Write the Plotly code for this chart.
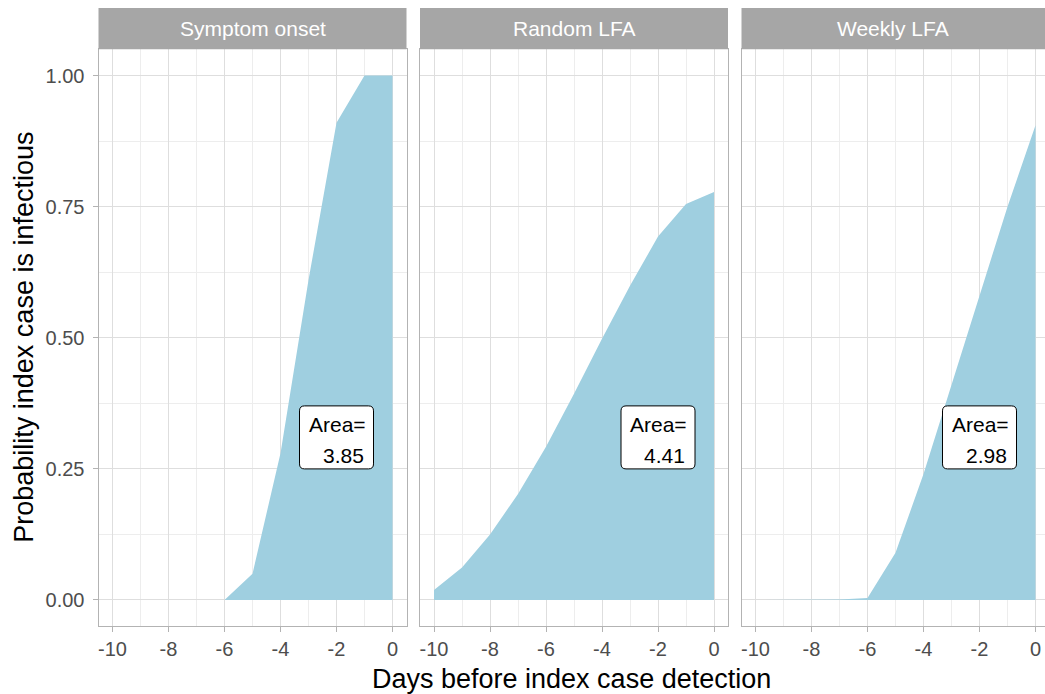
import plotly.graph_objects as go

# ---- data ----
days = [-10, -9, -8, -7, -6, -5, -4, -3, -2, -1, 0]
panels = ["Symptom onset", "Random LFA", "Weekly LFA"]
symptom_onset = [None, None, None, None, 0.0, 0.05, 0.28, 0.61, 0.91, 1.0, 1.0]
random_lfa = [0.019, 0.062, 0.125, 0.202, 0.292, 0.393, 0.498, 0.599, 0.693, 0.755, 0.778]
weekly_lfa = [0.0, 0.0, 0.0, 0.001, 0.004, 0.09, 0.24, 0.41, 0.58, 0.75, 0.905]
area_labels = ["3.85", "4.41", "2.98"]
label_x, label_y = -2, 0.31
x_ticks = [-10, -8, -6, -4, -2, 0]
y_ticks = [0.0, 0.25, 0.5, 0.75, 1.0]
y_tick_text = ["0.00", "0.25", "0.50", "0.75", "1.00"]

series = [symptom_onset, random_lfa, weekly_lfa]

W, H = 1045, 694
FONT = "Liberation Sans, Arial, sans-serif"
FILL = "#9FCFE0"
GRID = "#DEDEDE"
MINOR = "#EDEDED"
BORDER = "#B3B3B3"
STRIP = "#A6A6A6"

def px_x(p):
    return p / W

def px_y(p):
    return 1 - p / H

# panel pixel extents
panel_px = [(98.5, 406.5), (420.0, 728.0), (741.5, 1045.0)]
day_px = 28.0
yrange = (-0.05, 1.05)
ytop, ybot = 49.3, 626.2
unit_px = (ybot - ytop) / (yrange[1] - yrange[0])
strip_top = 8.0

def rounded_rect(cx, cy, hw, hh, r):
    # half sizes and radius in pixels -> data units
    dx, dy, rx, ry = hw / day_px, hh / unit_px, r / day_px, r / unit_px
    x0, x1, y0, y1 = cx - dx, cx + dx, cy - dy, cy + dy
    return (f"M {x0+rx} {y0} L {x1-rx} {y0} Q {x1} {y0} {x1} {y0+ry} "
            f"L {x1} {y1-ry} Q {x1} {y1} {x1-rx} {y1} "
            f"L {x0+rx} {y1} Q {x0} {y1} {x0} {y1-ry} "
            f"L {x0} {y0+ry} Q {x0} {y0} {x0+rx} {y0} Z")

fig = go.Figure()
for i, (name, vals) in enumerate(zip(panels, series)):
    xs = [d for d, v in zip(days, vals) if v is not None]
    ys = [v for v in vals if v is not None]
    fig.add_trace(go.Scatter(
        x=xs, y=ys, mode="lines", fill="tozeroy", fillcolor=FILL,
        line=dict(width=0, color=FILL), showlegend=False,
        xaxis="x" if i == 0 else f"x{i+1}", yaxis="y" if i == 0 else f"y{i+1}",
        hoverinfo="skip"))

layout = dict(
    width=W, height=H, margin=dict(l=0, r=0, t=0, b=0),
    paper_bgcolor="white", plot_bgcolor="white", showlegend=False,
    font=dict(family=FONT),
)
shapes = []
annotations = []
for i in range(3):
    l, r = panel_px[i]
    xr0 = -10.5
    xr1 = xr0 + (r - l) / day_px
    xa = "xaxis" if i == 0 else f"xaxis{i+1}"
    ya = "yaxis" if i == 0 else f"yaxis{i+1}"
    yid = "y" if i == 0 else f"y{i+1}"
    xid = "x" if i == 0 else f"x{i+1}"
    layout[xa] = dict(
        domain=[px_x(l), px_x(r)], range=[xr0, xr1], anchor=yid,
        tickvals=x_ticks, ticktext=[str(t) for t in x_ticks],
        ticks="outside", ticklen=5, tickcolor=BORDER, tickwidth=1,
        tickfont=dict(size=20, color="#4D4D4D", family=FONT),
        showgrid=True, gridcolor=GRID, gridwidth=1,
        minor=dict(tickvals=[-9, -7, -5, -3, -1], showgrid=True, gridcolor=MINOR, gridwidth=0.8),
        showline=True, linecolor=BORDER, linewidth=1, mirror=True,
        zeroline=False, automargin=False, fixedrange=True,
    )
    layout[ya] = dict(
        domain=[px_y(ybot), px_y(ytop)], range=list(yrange), anchor=xid,
        tickvals=y_ticks, ticktext=y_tick_text,
        ticks="outside" if i == 0 else "", ticklen=5, tickcolor=BORDER, tickwidth=1,
        showticklabels=(i == 0), ticklabelstandoff=4,
        tickfont=dict(size=20, color="#4D4D4D", family=FONT),
        showgrid=True, gridcolor=GRID, gridwidth=1,
        minor=dict(tickvals=[0.125, 0.375, 0.625, 0.875], showgrid=True, gridcolor=MINOR, gridwidth=0.8),
        showline=True, linecolor=BORDER, linewidth=1, mirror=True,
        zeroline=False, automargin=False, fixedrange=True,
    )
    # strip
    shapes.append(dict(type="rect", xref="paper", yref="paper",
                       x0=px_x(l), x1=px_x(r), y0=px_y(ytop), y1=px_y(strip_top),
                       fillcolor=STRIP, line=dict(width=0), layer="above"))
    annotations.append(dict(text=panels[i], xref="paper", yref="paper",
                            x=px_x((l + r) / 2), y=px_y((ytop + strip_top) / 2),
                            xanchor="center", yanchor="middle", showarrow=False,
                            font=dict(size=21, color="white", family=FONT)))
    # area label: rounded box + two text lines
    shapes.append(dict(type="path", xref=xid, yref=yid,
                       path=rounded_rect(label_x, label_y, 37, 31.5, 5),
                       fillcolor="white", line=dict(color="black", width=1), layer="above"))
    annotations.append(dict(text="Area=", xref=xid, yref=yid,
                            x=label_x + 31 / day_px, y=label_y + 13 / unit_px,
                            xanchor="right", yanchor="middle", showarrow=False,
                            font=dict(size=21, color="black", family=FONT)))
    annotations.append(dict(text=area_labels[i], xref=xid, yref=yid,
                            x=label_x + 29 / day_px, y=label_y - 18 / unit_px,
                            xanchor="right", yanchor="middle", showarrow=False,
                            font=dict(size=21, color="black", family=FONT)))

annotations.append(dict(text="Days before index case detection", xref="paper", yref="paper",
                        x=px_x((98.5 + 1045) / 2), y=px_y(679), xanchor="center", yanchor="middle",
                        showarrow=False, font=dict(size=27, color="black", family=FONT)))
annotations.append(dict(text="Probability index case is infectious", xref="paper", yref="paper",
                        x=px_x(24), y=px_y((ytop + ybot) / 2), xanchor="center", yanchor="middle",
                        textangle=-90, showarrow=False,
                        font=dict(size=27, color="black", family=FONT)))

layout["shapes"] = shapes
layout["annotations"] = annotations
fig.update_layout(**layout)
fig.write_html("out.html", config={"displayModeBar": False},
               post_script="document.body.style.margin='0';document.body.style.overflow='hidden';")
